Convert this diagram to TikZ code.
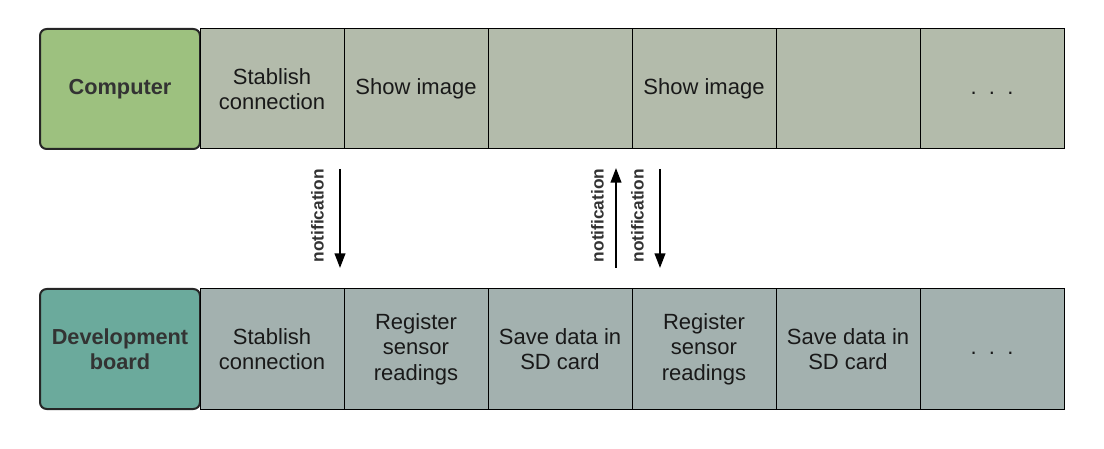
\documentclass[tikz,border=0pt]{standalone}
\usepackage{fontspec}
\setmainfont{Liberation Sans}
\usetikzlibrary{arrows.meta,positioning}

\definecolor{compfill}{HTML}{9DC17F}
\definecolor{compcell}{HTML}{B3BBAB}
\definecolor{boardfill}{HTML}{6BAA9C}
\definecolor{boardcell}{HTML}{A3B1AF}

\begin{document}
\begin{tikzpicture}[
  x=0.75pt, y=-0.75pt,
  node distance=0pt,
  actor/.style={draw=black!85, line width=1.5pt, rounded corners=5pt, align=center,
    minimum width=120pt, minimum height=90pt, outer sep=0pt,
    font=\fontsize{16.3}{19}\selectfont\bfseries, text=black!80},
  cell/.style={draw, line width=0.75pt, align=center, inner sep=0pt, outer sep=0pt,
    minimum width=108pt, minimum height=90pt,
    font=\fontsize{16.5}{19}\selectfont, text=black!90},
  note/.style={font=\fontsize{13}{15}\selectfont\bfseries, text=black!80, rotate=90},
  >={Triangle[length=11pt, width=8pt]}
]
  \useasboundingbox (0,0) rectangle (1104,449);

  % computer timeline
  \node[actor, fill=compfill] (comp) at (120,89) {Computer};
  \node[cell, fill=compcell, right=of comp] (c1) {Stablish\\connection};
  \node[cell, fill=compcell, right=of c1] (c2) {Show image};
  \node[cell, fill=compcell, right=of c2] (c3) {};
  \node[cell, fill=compcell, right=of c3] (c4) {Show image};
  \node[cell, fill=compcell, right=of c4] (c5) {};
  \node[cell, fill=compcell, right=of c5] (c6) {\strut.~~.~~.};

  % board timeline
  \node[actor, fill=boardfill] (board) at (120,349) {Development\\board};
  \node[cell, fill=boardcell, right=of board] (d1) {Stablish\\connection};
  \node[cell, fill=boardcell, right=of d1] (d2) {Register\\sensor\\readings};
  \node[cell, fill=boardcell, right=of d2] (d3) {Save data in\\SD card};
  \node[cell, fill=boardcell, right=of d3] (d4) {Register\\sensor\\readings};
  \node[cell, fill=boardcell, right=of d4] (d5) {Save data in\\SD card};
  \node[cell, fill=boardcell, right=of d5] (d6) {\strut.~~.~~.};

  % notifications
  \draw[->, line width=1.5pt] ([xshift=-3pt, yshift=-15pt]c1.south east)
    -- node[note, midway, yshift=17pt, xshift=2pt] {notification}
    ([xshift=-3pt, yshift=15.75pt]d1.north east);
  \draw[->, line width=1.5pt] ([xshift=-12pt, yshift=15.75pt]d3.north east)
    -- node[note, midway, yshift=14pt, xshift=2pt] {notification}
    ([xshift=-12pt, yshift=-14.25pt]c3.south east);
  \draw[->, line width=1.5pt] ([xshift=21pt, yshift=-15pt]c4.south west)
    -- node[note, midway, yshift=17pt, xshift=2pt] {notification}
    ([xshift=21pt, yshift=15.75pt]d4.north west);
\end{tikzpicture}
\end{document}
